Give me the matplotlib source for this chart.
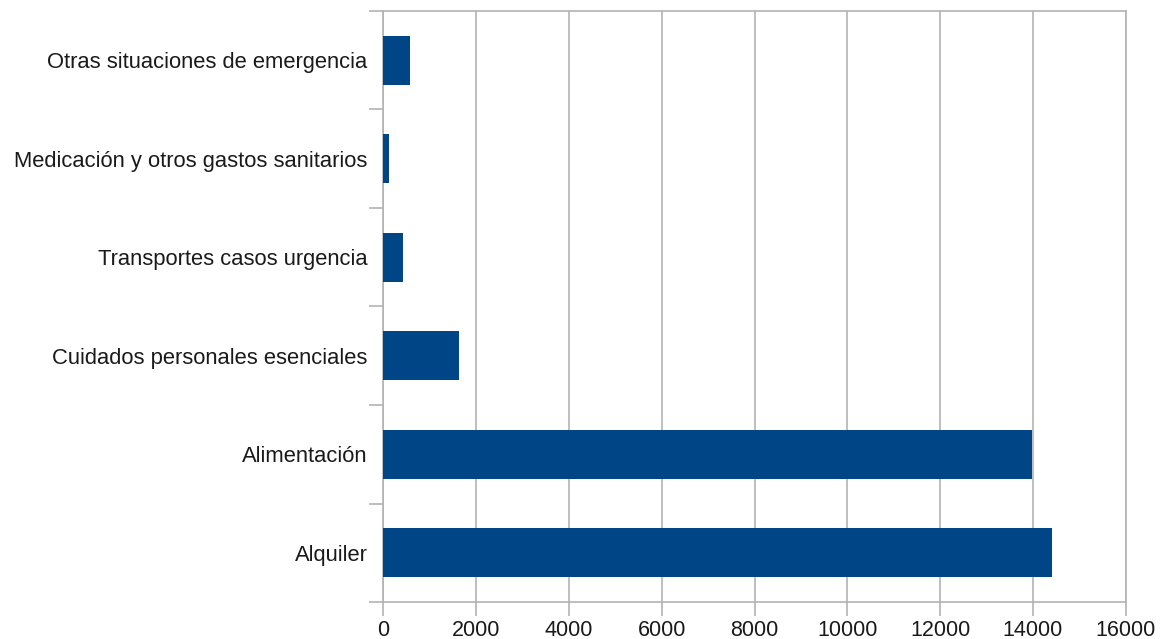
import numpy as np
import matplotlib.pyplot as plt

# data ---------------------------------------------------------------------#
categories = ["Alquiler", "Alimentación", "Cuidados personales esenciales",
              "Transportes casos urgencia", "Medicación y otros gastos sanitarios",
              "Otras situaciones de emergencia"]
values = [14420, 13970, 1635, 430, 125, 580]
x_ticks = [0, 2000, 4000, 6000, 8000, 10000, 12000, 14000, 16000]

plt.rcParams['font.family'] = ['Liberation Sans', 'DejaVu Sans']

grid_col = "#b3b3b3"
text_col = "#1a1a1a"

fig = plt.figure(figsize=(11.61, 6.39), dpi=100)
ax = fig.add_axes([0.3303, 0.0579, 0.9696 - 0.3303, 0.9828 - 0.0579])

y = np.arange(len(categories))
ax.barh(y, values, height=0.5, color="#004586", zorder=3)

ax.set_xlim(0, 16000)
ax.set_ylim(-0.5, len(categories) - 0.5)

# x axis
ax.set_xticks(x_ticks)
ax.set_xticklabels([str(t) for t in x_ticks], fontsize=15.5, color=text_col)
ax.tick_params(axis='x', direction='out', length=10, width=1.2, color=grid_col, pad=3)
ax.grid(axis='x', color=grid_col, linewidth=1.2, zorder=0)

# y axis: ticks at boundaries, labels at centres
ax.set_yticks(np.arange(-0.5, len(categories), 1.0))
ax.set_yticklabels([])
ax.set_yticks(y, minor=True)
ax.set_yticklabels(categories, minor=True, fontsize=15.8, color=text_col)
ax.tick_params(axis='y', which='major', direction='out', length=10, width=1.2, color=grid_col)
ax.tick_params(axis='y', which='minor', length=0, pad=11.5)

for s in ax.spines.values():
    s.set_color(grid_col)
    s.set_linewidth(1.2)

fig.savefig("out.png", dpi=100)
